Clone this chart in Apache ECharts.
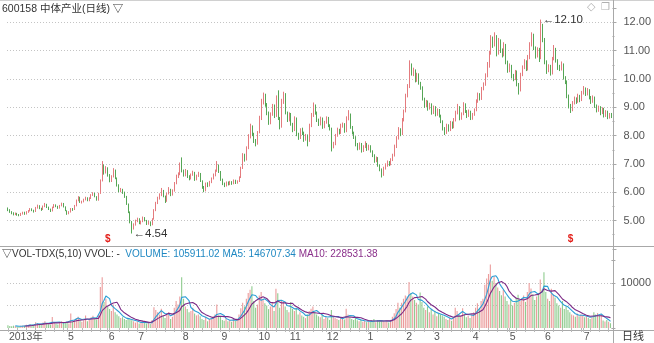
<!DOCTYPE html>
<html>
<head>
<meta charset="utf-8">
<script src="https://cdn.jsdelivr.net/npm/echarts@6/dist/echarts.min.js"></script>
<style>
  html, body { margin: 0; padding: 0; background: #ffffff; }
  #chart { width: 654px; height: 343px; }
</style>
</head>
<body>
<div id="chart"></div>
<script>
// 600158 中体产业 — daily bars, [open, close, low, high]
const dailyOHLC = [
  [5.42,5.38,5.33,5.46],[5.38,5.30,5.27,5.40],[5.31,5.26,5.22,5.33],[5.27,5.22,5.18,5.29],[5.21,5.25,5.19,5.28],
  [5.25,5.21,5.17,5.27],[5.20,5.18,5.15,5.23],[5.18,5.24,5.16,5.27],[5.24,5.28,5.21,5.31],[5.29,5.22,5.20,5.31],
  [5.22,5.30,5.21,5.33],[5.30,5.34,5.27,5.37],[5.34,5.40,5.32,5.44],[5.41,5.36,5.33,5.43],[5.36,5.31,5.28,5.38],
  [5.31,5.45,5.30,5.48],[5.45,5.52,5.42,5.56],[5.52,5.42,5.40,5.54],[5.42,5.38,5.34,5.45],[5.38,5.50,5.37,5.53],
  [5.50,5.58,5.47,5.62],[5.57,5.47,5.44,5.59],[5.46,5.40,5.37,5.49],[5.40,5.33,5.30,5.42],[5.33,5.46,5.32,5.49],
  [5.46,5.55,5.44,5.58],[5.55,5.50,5.47,5.57],[5.50,5.44,5.41,5.52],[5.44,5.52,5.42,5.55],[5.52,5.60,5.50,5.63],
  [5.60,5.48,5.46,5.62],[5.48,5.35,5.33,5.50],[5.34,5.24,5.20,5.36],[5.24,5.30,5.22,5.33],[5.30,5.41,5.28,5.44],
  [5.41,5.38,5.34,5.44],[5.38,5.52,5.37,5.55],[5.52,5.70,5.50,5.74],[5.70,5.82,5.68,5.86],[5.82,5.64,5.62,5.84],
  [5.64,5.66,5.60,5.70],[5.66,5.74,5.64,5.77],[5.74,5.80,5.71,5.84],[5.80,5.70,5.68,5.82],[5.70,5.78,5.68,5.82],
  [5.78,5.90,5.76,5.93],[5.90,5.96,5.87,6.00],[5.96,5.84,5.82,5.98],[5.84,5.72,5.70,5.86],[5.72,5.95,5.70,5.98],
  [5.96,6.35,5.94,6.45],[6.40,6.92,6.38,7.10],[6.92,6.70,6.62,6.98],[6.70,6.85,6.66,6.92],[6.85,6.60,6.55,6.88],
  [6.60,6.40,6.35,6.64],[6.40,6.55,6.36,6.60],[6.55,6.78,6.52,6.85],[6.78,6.50,6.46,6.80],[6.50,6.25,6.20,6.52],
  [6.25,6.05,6.00,6.28],[6.05,6.10,6.00,6.15],[6.10,5.98,5.94,6.12],[5.98,5.85,5.80,6.02],[5.85,5.60,5.55,5.87],
  [5.58,5.30,5.26,5.60],[5.30,4.95,4.90,5.32],[4.95,4.70,4.54,4.98],[4.72,4.85,4.68,4.90],[4.85,4.98,4.82,5.03],
  [4.98,5.05,4.94,5.10],[5.05,4.90,4.87,5.08],[4.90,4.96,4.86,5.00],[4.96,5.10,4.94,5.14],[5.10,5.00,4.97,5.12],
  [5.00,4.88,4.84,5.02],[4.88,4.95,4.85,4.99],[4.95,4.85,4.80,4.97],[4.85,5.05,4.83,5.08],[5.05,5.35,5.03,5.40],
  [5.35,5.62,5.33,5.66],[5.62,5.78,5.58,5.84],[5.78,5.90,5.74,5.96],[5.90,6.05,5.86,6.15],[6.05,5.85,5.82,6.08],
  [5.85,5.68,5.62,5.88],[5.68,5.95,5.66,5.98],[5.95,6.10,5.92,6.18],[6.10,5.90,5.86,6.12],[5.90,6.05,5.88,6.10],
  [6.05,6.30,6.02,6.36],[6.30,6.55,6.28,6.62],[6.55,6.62,6.50,6.70],[6.62,6.95,6.60,7.05],[7.15,6.75,6.70,7.23],
  [6.75,6.60,6.55,6.80],[6.60,6.75,6.56,6.82],[6.75,6.55,6.50,6.78],[6.55,6.48,6.42,6.60],[6.48,6.62,6.45,6.66],
  [6.62,6.70,6.58,6.76],[6.70,6.45,6.40,6.72],[6.45,6.58,6.42,6.62],[6.58,6.66,6.54,6.72],[6.66,6.40,6.36,6.68],
  [6.40,6.18,6.12,6.42],[6.18,6.05,6.00,6.22],[6.05,6.30,6.03,6.34],[6.30,6.22,6.18,6.35],[6.22,6.35,6.20,6.40],
  [6.35,6.48,6.32,6.52],[6.48,6.60,6.45,6.66],[6.60,6.75,6.56,6.80],[6.75,6.95,6.72,7.10],[6.95,6.72,6.68,6.98],
  [6.72,6.45,6.40,6.75],[6.45,6.30,6.25,6.48],[6.30,6.22,6.18,6.34],[6.22,6.35,6.20,6.38],[6.35,6.28,6.24,6.38],
  [6.28,6.36,6.25,6.40],[6.36,6.30,6.26,6.39],[6.30,6.42,6.28,6.45],[6.42,6.32,6.29,6.44],[6.32,6.38,6.30,6.42],
  [6.38,6.52,6.36,6.56],[6.52,6.85,6.50,6.90],[6.85,7.30,6.82,7.38],[7.30,7.15,7.08,7.36],[7.15,7.55,7.12,7.62],
  [7.55,7.95,7.52,8.05],[7.95,8.30,7.90,8.42],[8.30,8.05,7.98,8.36],[8.05,7.80,7.74,8.10],[7.80,7.70,7.62,7.88],
  [7.70,8.10,7.68,8.16],[8.10,8.60,8.08,8.70],[8.60,9.20,8.55,9.30],[9.20,9.45,9.10,9.52],[9.45,9.10,9.02,9.48],
  [9.10,8.80,8.72,9.15],[8.80,8.45,8.38,8.85],[8.45,8.75,8.40,8.82],[8.75,9.05,8.70,9.12],[9.05,8.70,8.62,9.10],
  [8.70,9.35,8.66,9.42],[9.35,8.60,8.55,9.60],[8.60,8.30,8.22,8.66],[8.30,9.20,8.28,9.30],[9.20,9.45,9.12,9.55],
  [9.45,8.80,8.75,9.50],[8.80,8.55,8.48,8.85],[8.55,8.75,8.50,8.82],[8.75,8.40,8.35,8.80],[8.40,8.20,8.12,8.45],
  [8.20,8.60,8.16,8.68],[8.60,8.05,7.98,8.64],[8.05,7.90,7.85,8.10],[7.90,8.20,7.88,8.26],[8.20,8.10,8.02,8.28],
  [8.10,7.85,7.78,8.14],[7.85,8.00,7.82,8.06],[8.00,7.80,7.62,8.04],[7.80,8.35,7.78,8.42],[8.35,8.70,8.30,8.80],
  [8.70,9.05,8.66,9.17],[9.05,8.80,8.74,9.10],[8.80,8.55,8.48,8.85],[8.55,8.40,8.34,8.60],[8.40,8.60,8.36,8.67],
  [8.60,8.30,8.24,8.64],[8.30,8.45,8.26,8.52],[8.45,8.62,8.42,8.68],[8.62,8.35,8.30,8.66],[8.35,8.25,8.18,8.40],
  [8.25,7.60,7.44,8.28],[7.60,7.70,7.55,7.78],[7.70,8.00,7.66,8.06],[8.00,8.20,7.96,8.28],[8.20,8.10,8.04,8.24],
  [8.10,8.35,8.06,8.42],[8.35,8.40,8.28,8.46],[8.40,8.15,8.10,8.44],[8.15,8.60,8.12,8.68],[8.60,8.75,8.54,8.90],
  [8.75,8.30,8.24,8.78],[8.30,8.10,8.04,8.34],[8.10,7.95,7.88,8.14],[7.95,7.70,7.62,7.98],[7.70,7.55,7.48,7.74],
  [7.55,7.70,7.50,7.76],[7.70,7.45,7.40,7.74],[7.45,7.60,7.42,7.66],[7.60,7.70,7.56,7.80],[7.70,7.52,7.46,7.74],
  [7.52,7.62,7.48,7.68],[7.62,7.45,7.40,7.66],[7.45,7.30,7.24,7.48],[7.30,7.10,7.04,7.34],[7.10,7.20,7.06,7.26],
  [7.20,6.95,6.90,7.24],[6.95,6.80,6.74,6.98],[6.80,6.60,6.52,6.84],[6.60,6.85,6.58,6.90],[6.85,6.95,6.80,7.02],
  [6.95,7.05,6.90,7.12],[7.05,6.98,6.92,7.10],[6.98,7.15,6.95,7.20],[7.15,7.30,7.10,7.36],[7.30,7.60,7.26,7.68],
  [7.60,7.90,7.56,7.98],[7.90,8.20,7.86,8.30],[8.20,8.05,7.98,8.26],[8.05,8.55,8.02,8.62],[8.55,8.85,8.50,8.92],
  [8.85,9.40,8.82,9.48],[9.40,9.70,9.35,9.82],[9.70,10.45,9.68,10.66],[10.45,10.20,10.12,10.55],[10.20,10.30,10.10,10.40],
  [10.30,9.95,9.88,10.34],[9.95,10.15,9.90,10.22],[10.15,9.85,9.80,10.20],[9.85,9.70,9.62,9.90],[9.70,9.30,9.24,9.74],
  [9.30,9.05,8.98,9.34],[9.05,9.20,9.00,9.26],[9.20,8.95,8.88,9.24],[8.95,9.10,8.92,9.16],[9.10,8.80,8.74,9.14],
  [8.80,9.00,8.76,9.06],[9.00,8.75,8.68,9.04],[8.75,8.90,8.70,8.96],[8.90,8.70,8.64,8.94],[8.70,8.50,8.44,8.74],
  [8.50,8.25,8.18,8.54],[8.25,8.10,8.02,8.30],[8.10,8.35,8.06,8.42],[8.35,8.20,8.14,8.40],[8.20,8.45,8.16,8.52],
  [8.45,8.30,8.24,8.50],[8.30,8.55,8.26,8.62],[8.55,8.80,8.50,8.88],[8.80,9.00,8.75,9.12],[9.00,8.60,8.54,9.04],
  [8.60,8.75,8.56,8.82],[8.75,9.10,8.72,9.18],[9.10,8.85,8.80,9.14],[8.85,8.70,8.62,8.90],[8.70,8.85,8.66,8.92],
  [8.85,8.60,8.55,8.88],[8.60,8.75,8.56,8.80],[8.75,8.90,8.70,8.96],[8.90,9.20,8.86,9.28],[9.20,9.45,9.16,9.52],
  [9.45,9.30,9.24,9.50],[9.30,9.65,9.26,9.72],[9.65,9.80,9.60,9.88],[9.80,10.10,9.76,10.20],[10.10,10.45,10.06,10.60],
  [10.45,10.90,10.40,11.00],[10.90,11.40,10.86,11.55],[11.40,11.20,11.10,11.50],[11.20,11.50,11.15,11.65],[11.50,10.90,10.80,11.55],
  [10.90,11.35,10.86,11.45],[11.35,11.00,10.92,11.40],[11.00,10.85,10.76,11.08],[10.85,11.20,10.80,11.30],[11.20,10.60,10.52,11.24],
  [10.60,10.30,10.22,10.65],[10.30,10.45,10.24,10.55],[10.45,10.10,10.02,10.50],[10.10,10.00,9.92,10.18],[10.00,10.25,9.96,10.32],
  [10.25,9.80,9.74,10.30],[9.80,9.60,9.45,9.86],[9.60,10.15,9.56,10.22],[10.15,10.40,10.10,10.48],[10.40,10.60,10.35,10.70],
  [10.60,10.35,10.28,10.66],[10.35,10.75,10.30,10.85],[10.75,11.20,10.70,11.30],[11.20,11.55,11.15,11.65],[11.55,11.10,11.02,11.60],
  [11.10,10.80,10.72,11.15],[10.80,11.05,10.76,11.12],[11.05,10.70,10.60,11.10],[10.75,11.85,10.70,12.10],[11.85,11.40,11.30,11.95],
  [11.40,10.60,10.52,11.45],[10.60,10.30,10.18,10.66],[10.30,10.45,10.24,10.52],[10.45,10.20,10.12,10.50],[10.20,10.70,10.16,10.78],
  [10.70,11.05,10.66,11.20],[11.05,10.65,10.58,11.10],[10.65,10.40,10.32,10.70],[10.40,10.35,10.28,10.50],[10.35,10.50,10.30,10.62],
  [10.50,10.05,9.98,10.55],[10.05,9.90,9.82,10.10],[9.90,9.40,9.32,9.95],[9.40,9.05,8.96,9.45],[9.05,8.90,8.80,9.12],
  [8.90,9.15,8.86,9.22],[9.15,9.30,9.10,9.38],[9.30,9.20,9.12,9.35],[9.20,9.40,9.16,9.48],[9.40,9.25,9.18,9.44],
  [9.25,9.50,9.22,9.58],[9.50,9.65,9.45,9.75],[9.65,9.45,9.40,9.70],[9.45,9.60,9.42,9.68],[9.60,9.35,9.28,9.64],
  [9.35,9.20,9.12,9.40],[9.20,9.35,9.16,9.42],[9.35,9.05,8.98,9.38],[9.05,8.90,8.82,9.10],[8.90,9.00,8.84,9.06],
  [9.00,8.80,8.72,9.04],[8.80,8.95,8.76,9.00],[8.95,8.70,8.64,8.98],[8.70,8.85,8.66,8.90],[8.85,8.65,8.58,8.88],
  [8.65,8.75,8.60,8.80],[8.75,8.68,8.62,8.80]
];

// daily traded volume
const dailyVolume = [
  60000,45000,38000,52000,40000,35000,30000,48000,55000,42000,
  70000,65000,90000,75000,60000,130000,110000,80000,70000,120000,
  150000,95000,85000,70000,245000,130000,95000,80000,120000,150000,
  110000,130000,140000,100000,320000,140000,180000,220000,250000,160000,
  140000,170000,280000,150000,200000,240000,270000,210000,190000,280000,
  910000,1130000,580000,650000,480000,420000,380000,520000,350000,300000,
  260000,220000,240000,200000,180000,200000,190000,170000,150000,120000,
  140000,100000,110000,160000,120000,100000,110000,90000,180000,460000,
  400000,350000,300000,430000,280000,220000,300000,350000,200000,250000,
  450000,600000,520000,700000,1130000,650000,480000,420000,350000,380000,
  450000,320000,280000,300000,260000,200000,180000,250000,150000,200000,
  220000,260000,300000,520000,280000,250000,180000,160000,200000,150000,
  170000,140000,220000,160000,180000,300000,440000,560000,480000,650000,
  780000,850000,930000,600000,450000,520000,720000,800000,650000,550000,
  500000,420000,480000,560000,380000,870000,770000,450000,600000,580000,
  480000,400000,350000,580000,420000,380000,450000,300000,350000,280000,
  250000,220000,300000,380000,430000,480000,350000,300000,260000,240000,
  300000,200000,260000,220000,180000,400000,260000,220000,200000,180000,
  220000,210000,190000,430000,300000,250000,200000,180000,220000,170000,
  150000,180000,140000,160000,130000,150000,140000,160000,200000,130000,
  180000,150000,170000,160000,140000,150000,120000,180000,250000,330000,
  420000,560000,450000,560000,650000,720000,700000,1020000,780000,700000,
  620000,560000,520000,790000,580000,450000,400000,480000,350000,420000,
  300000,380000,260000,320000,300000,280000,250000,200000,180000,220000,
  160000,240000,450000,380000,300000,260000,440000,300000,240000,280000,
  220000,300000,350000,450000,550000,420000,600000,650000,960000,1100000,
  1200000,1410000,1050000,1150000,1000000,900000,820000,730000,850000,700000,
  600000,520000,650000,500000,560000,680000,740000,600000,650000,720000,
  580000,800000,1000000,880000,750000,620000,700000,780000,1080000,850000,
  1240000,800000,650000,600000,870000,750000,680000,550000,500000,450000,
  600000,420000,480000,400000,350000,300000,280000,250000,320000,260000,
  300000,280000,240000,260000,220000,200000,240000,
  352140.00,298760.30,331520.40,276410.20,292946.20,
  168420.50,142380.16,176530.02,140295.00,105911.02
];

// month labels on the date axis (index of the first trading day of each month)
const monthTickIndex = [0, 32, 54, 70, 94, 115, 135, 152, 172, 194, 215, 230, 251, 271, 290, 311];
const monthTickLabel = ['2013年', '5', '6', '7', '8', '9', '10', '11', '12', '1', '2', '3', '4', '5', '6', '7'];

// days flagged with a trade signal under the price panel
const signalDays = [54, 304];

const FONT = '"Liberation Sans", Arial, "Noto Sans CJK SC", sans-serif';
const UP = '#e47b7e', DOWN = '#56a656';
const VOL_UP = '#eb9c9c', VOL_DOWN = '#8fcc8f';
const MA5_COLOR = '#2b9fd6', MA10_COLOR = '#7c2a86';
const GRID_LINE = '#c4c4c4', FRAME = '#a8a8a8', LABEL = '#555555';

const dayIndex = dailyOHLC.map((_, i) => String(i));

function movingAverage(values, n) {
  return values.map((_, i) => {
    if (i < n - 1) return '-';
    let s = 0;
    for (let k = i - n + 1; k <= i; k++) s += values[k];
    return s / n;
  });
}
const ma5 = movingAverage(dailyVolume, 5);
const ma10 = movingAverage(dailyVolume, 10);

let hiIdx = 0, loIdx = 0;
dailyOHLC.forEach((b, i) => {
  if (b[3] > dailyOHLC[hiIdx][3]) hiIdx = i;
  if (b[2] < dailyOHLC[loIdx][2]) loIdx = i;
});
const last = dailyVolume.length - 1;

const isUp = i => dailyOHLC[i][1] >= dailyOHLC[i][0];

const chart = echarts.init(document.getElementById('chart'), null, { renderer: 'canvas' });

const option = {
  animation: false,
  backgroundColor: '#ffffff',
  textStyle: { fontFamily: FONT },
  grid: [
    { left: 7, right: 41, top: 8.25, height: 240.55 },
    { left: 7, right: 41, top: 260.5, height: 67.5 }
  ],
  xAxis: [
    { type: 'category', gridIndex: 0, data: dayIndex, boundaryGap: true, show: false },
    {
      type: 'category', gridIndex: 1, data: dayIndex, boundaryGap: true,
      axisLine: { show: false },
      axisTick: {
        show: true, alignWithLabel: true, inside: false, length: 4,
        interval: i => monthTickIndex.includes(i) || i % 5 === 0,
        lineStyle: { color: '#b8b8b8' }
      },
      axisLabel: {
        interval: i => monthTickIndex.includes(i),
        formatter: (v, i) => monthTickLabel[monthTickIndex.indexOf(i)],
        align: 'left', color: LABEL, fontSize: 10.5, margin: 4, padding: [0, 0, 0, 1]
      }
    }
  ],
  yAxis: [
    {
      type: 'value', gridIndex: 0, position: 'right', min: 4, max: 12.5, interval: 1,
      axisLine: { show: false },
      axisTick: { show: true, length: 4, lineStyle: { color: FRAME } },
      minorTick: { show: true, splitNumber: 2, length: 2, lineStyle: { color: FRAME } },
      axisLabel: {
        color: LABEL, fontSize: 11, margin: 11,
        showMinLabel: false, showMaxLabel: false,
        formatter: v => v.toFixed(2)
      },
      splitLine: { show: true, showMinLine: false, showMaxLine: false, lineStyle: { color: GRID_LINE, type: [1, 2] } }
    },
    {
      type: 'value', gridIndex: 1, position: 'right', min: 0, max: 1500000, interval: 500000,
      axisLine: { show: false },
      axisTick: { show: true, length: 4, lineStyle: { color: FRAME } },
      axisLabel: {
        color: LABEL, fontSize: 11, margin: 9,
        formatter: v => (v === 1000000 ? String(v / 100) : '')
      },
      splitLine: { show: true, showMinLine: false, showMaxLine: false, lineStyle: { color: GRID_LINE, type: [1, 2] } }
    }
  ],
  series: [
    {
      type: 'candlestick', name: 'K', xAxisIndex: 0, yAxisIndex: 0,
      data: dailyOHLC, barWidth: '62%',
      itemStyle: { color: UP, color0: DOWN, borderColor: UP, borderColor0: DOWN, borderWidth: 1 },
      markPoint: {
        symbol: 'rect', symbolSize: [1, 1],
        itemStyle: { color: 'rgba(0,0,0,0)' },
        label: {
          show: true, position: 'right', distance: 1,
          color: '#333333', fontSize: 11.5, fontFamily: FONT,
          formatter: p => '\u2190' + p.value.toFixed(2)
        },
        data: [
          { coord: [dayIndex[hiIdx], dailyOHLC[hiIdx][3]], value: dailyOHLC[hiIdx][3] },
          { coord: [dayIndex[loIdx], dailyOHLC[loIdx][2]], value: dailyOHLC[loIdx][2] }
        ]
      }
    },
    {
      type: 'bar', name: 'VOLUME', xAxisIndex: 1, yAxisIndex: 1,
      data: dailyVolume, barWidth: '60%',
      itemStyle: { color: p => (isUp(p.dataIndex) ? VOL_UP : VOL_DOWN) }
    },
    {
      type: 'line', name: 'MA5', xAxisIndex: 1, yAxisIndex: 1, data: ma5,
      symbol: 'none', smooth: false, lineStyle: { color: MA5_COLOR, width: 1.1 }
    },
    {
      type: 'line', name: 'MA10', xAxisIndex: 1, yAxisIndex: 1, data: ma10,
      symbol: 'none', smooth: false, lineStyle: { color: MA10_COLOR, width: 1.1 }
    }
  ],
  graphic: [
    { type: 'line', id: 'frameTop', silent: true, shape: { x1: 0, y1: 0.5, x2: 654, y2: 0.5 }, style: { stroke: '#d0d0d0', lineWidth: 1 } },
    { type: 'line', id: 'frameRight', silent: true, shape: { x1: 613.5, y1: 0, x2: 613.5, y2: 343 }, style: { stroke: FRAME, lineWidth: 1 } },
    { type: 'line', id: 'frameMid', silent: true, shape: { x1: 0, y1: 246.5, x2: 654, y2: 246.5 }, style: { stroke: FRAME, lineWidth: 1 } },
    { type: 'line', id: 'frameDate', silent: true, shape: { x1: 0, y1: 330.5, x2: 654, y2: 330.5 }, style: { stroke: FRAME, lineWidth: 1 } },
    {
      type: 'text', id: 'title', left: 2, top: 4, silent: true,
      style: { text: '600158 中体产业(日线) ▽', fill: '#333333', fontSize: 10.5, fontFamily: FONT }
    },
    {
      type: 'text', id: 'iconA', left: 587, top: 2, silent: true,
      style: { text: '◇', fill: '#b0b0b0', fontSize: 11, fontFamily: '"DejaVu Sans", sans-serif' }
    },
    {
      type: 'text', id: 'iconB', left: 601, top: 2, silent: true,
      style: { text: '❐', fill: '#b0b0b0', fontSize: 10, fontFamily: '"DejaVu Sans", sans-serif' }
    },
    {
      type: 'text', id: 'volLegend', left: 2, top: 249, silent: true,
      style: {
        text: '{a|▽VOL-TDX(5,10) VVOL: -}  {b|VOLUME: ' + dailyVolume[last].toFixed(2) +
              ' MA5: ' + ma5[last].toFixed(2) + '} {c|MA10: ' + ma10[last].toFixed(2) + '}',
        fontFamily: FONT, fontSize: 10,
        rich: {
          a: { fill: '#333333', fontSize: 10, fontFamily: FONT },
          b: { fill: '#1f88c2', fontSize: 10, fontFamily: FONT },
          c: { fill: '#8a2f8a', fontSize: 10, fontFamily: FONT }
        }
      }
    },
    {
      type: 'text', id: 'periodTag', left: 622, top: 331, silent: true,
      style: { text: '日线', fill: '#333333', fontSize: 11, fontFamily: FONT }
    }
  ]
};

chart.setOption(option);

// signal markers sit just above the panel separator, under their trading day
const signalMarks = signalDays.map((d, k) => ({
  type: 'text', id: 'signal' + k, silent: true,
  x: chart.convertToPixel({ xAxisIndex: 0 }, dayIndex[d]) - 3,
  y: 234,
  style: { text: '$', fill: '#e3201b', fontSize: 10, fontWeight: 'bold', fontFamily: FONT }
}));
chart.setOption({ graphic: signalMarks });
</script>
</body>
</html>
